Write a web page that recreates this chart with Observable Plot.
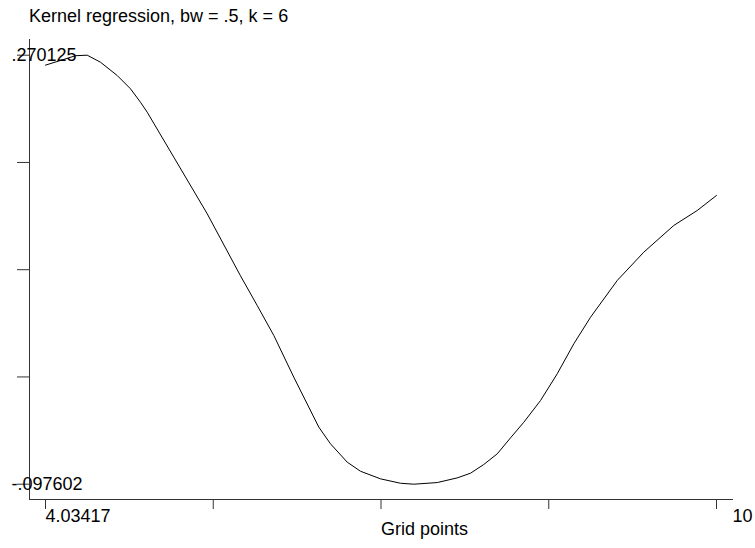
<!DOCTYPE html>
<html>
<head>
<meta charset="utf-8">
<script src="https://cdn.jsdelivr.net/npm/d3@7"></script>
<script src="https://cdn.jsdelivr.net/npm/@observablehq/plot@0.6"></script>
<style>
html, body { margin: 0; padding: 0; background: #fff; }
#wrap { position: relative; width: 755px; height: 548px; font-family: "Liberation Sans", Arial, sans-serif; }
#title { position: absolute; left: 29px; top: 7px; font-size: 18px; line-height: 18px; color: #000; white-space: nowrap; }
</style>
</head>
<body>
<div id="wrap"><div id="title"></div></div>
<script>
const chartTitle = "Kernel regression, bw = .5, k = 6";
const xTitle = "Grid points";

const gridX = [4.03417, 4.1675, 4.3009, 4.4049, 4.5232, 4.6717, 4.7899, 4.8788, 4.9384, 5.1749,
  5.4719, 5.7679, 5.9164, 6.0640, 6.2418, 6.4641, 6.5681, 6.7166, 6.8348, 7.0126,
  7.1905, 7.3087, 7.5168, 7.6946, 7.8128, 7.9311, 8.0502, 8.1685, 8.2867, 8.4352,
  8.5837, 8.7317, 8.8798, 9.1172, 9.3537, 9.6204, 9.8285, 10.0];
const fitY = [0.2616, 0.2656, 0.2697, 0.270125, 0.2641, 0.2527, 0.2413, 0.2298, 0.2213, 0.1827,
  0.1342, 0.0810, 0.0556, 0.0299, -0.0059, -0.0487, -0.0630, -0.0787, -0.0865, -0.0930,
  -0.0968, -0.097602, -0.0962, -0.0922, -0.0882, -0.0807, -0.0716, -0.0579, -0.0445, -0.0259,
  -0.0030, 0.0228, 0.0455, 0.0770, 0.1013, 0.1242, 0.1370, 0.1499];

const xTickLabels = ["4.03417", "10"];
const xTickLabelValues = [4.03417, 10];
const yTickLabels = [".270125", "-.097602"];
const yTickLabelValues = [0.270125, -0.097602];

document.getElementById("title").textContent = chartTitle;

const xMin = 4.03417, xMax = 10, yMin = -0.097602, yMax = 0.270125;
const xTicks = d3.range(5).map(i => xMin + i * (xMax - xMin) / 4);
const yTicks = d3.range(5).map(i => yMin + i * (yMax - yMin) / 4);
const data = gridX.map((x, i) => ({x, y: fitY[i]}));

const axisColor = "#333";

const chart = Plot.plot({
  width: 755,
  height: 548,
  marginLeft: 29,
  marginRight: 23,
  marginTop: 39,
  marginBottom: 49,
  style: {fontFamily: '"Liberation Sans", Arial, sans-serif', fontSize: "18px", color: "#000", background: "#fff", overflow: "visible"},
  x: {domain: [xMin, xMax], insetLeft: 16, insetRight: 16, label: null},
  y: {domain: [yMin, yMax], insetTop: 15.7, insetBottom: 15.3, label: null},
  marks: [
    Plot.frame({anchor: "left", stroke: axisColor}),
    Plot.frame({anchor: "bottom", stroke: axisColor}),
    Plot.axisY(yTicks, {tickSize: 12, tickFormat: () => "", stroke: axisColor, label: null}),
    Plot.axisY(yTickLabelValues, {tickSize: 0, tickPadding: 0, dx: -18, textAnchor: "start",
      tickFormat: d => yTickLabels[yTickLabelValues.indexOf(d)], fill: "#000", label: null}),
    Plot.axisX(xTicks, {tickSize: 10, tickFormat: () => "", stroke: axisColor, label: null}),
    Plot.axisX([xTickLabelValues[0]], {tickSize: 0, tickPadding: 10, textAnchor: "start",
      tickFormat: d => xTickLabels[xTickLabelValues.indexOf(d)], fill: "#000", label: null}),
    Plot.axisX([xTickLabelValues[1]], {tickSize: 0, tickPadding: 10, textAnchor: "start", dx: 16,
      tickFormat: d => xTickLabels[xTickLabelValues.indexOf(d)], fill: "#000", label: null}),
    Plot.text([xTitle], {text: d => d, frameAnchor: "bottom", textAnchor: "start", lineAnchor: "bottom", dy: 35, fill: "#000"}),
    Plot.line(data, {x: "x", y: "y", stroke: "#000", strokeWidth: 1})
  ]
});
document.getElementById("wrap").appendChild(chart);
</script>
</body>
</html>
